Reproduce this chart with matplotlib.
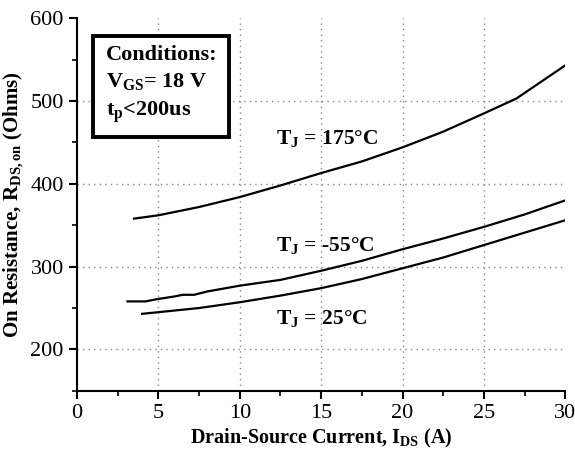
import matplotlib
matplotlib.use('Agg')
from matplotlib import pyplot as plt

plt.rcParams['font.family'] = ['Liberation Serif', 'DejaVu Serif']
plt.rcParams['mathtext.fontset'] = 'custom'
plt.rcParams['mathtext.rm'] = 'Liberation Serif:bold'
plt.rcParams['mathtext.bf'] = 'Liberation Serif:bold'
plt.rcParams['mathtext.it'] = 'Liberation Serif:bold'

# curves (I_DS in A, R_DS,on in Ohms)
i_175 = [3.5, 5, 7.5, 10, 12.5, 15, 17.5, 20, 22.5, 25, 27, 30]
r_175 = [358, 362, 372, 384, 398, 413, 427, 444, 463, 485, 503, 543]

i_m55 = [3.1, 4.2, 5, 6, 6.5, 7.2, 8, 10, 12.5, 15, 17.5, 20, 22.5, 25, 27.5, 30]
r_m55 = [258, 258, 261, 264, 266, 266, 270, 277, 284, 295, 307, 321, 334, 348, 363, 380]

i_25 = [4, 5, 7.5, 10, 12.5, 15, 17.5, 20, 22.5, 25, 27.5, 30]
r_25 = [243, 245, 250, 257, 265, 274, 285, 298, 311, 326, 341, 356]

x_ticks = [0, 5, 10, 15, 20, 25, 30]
y_ticks = [200, 300, 400, 500, 600]

fig = plt.figure(figsize=(5.75, 4.55), dpi=100)
ax = fig.add_axes([0.134, 0.141, 0.849, 0.819])

ax.plot(i_175, r_175, color='black', lw=1.6)
ax.plot(i_m55, r_m55, color='black', lw=1.6)
ax.plot(i_25, r_25, color='black', lw=1.6)

ax.set_xlim(0, 30)
ax.set_ylim(150, 600)
ax.set_xticks(x_ticks)
ax.set_yticks(y_ticks)
ax.set_xticks([2.5, 7.5, 12.5, 17.5, 22.5, 27.5], minor=True)
ax.set_yticks([150, 250, 350, 450, 550], minor=True)
ax.tick_params(labelsize=16, width=1.5, length=6)
ax.tick_params(which='minor', width=1.2, length=3.5)

# dotted grid at the inner major ticks only
for gx in x_ticks[1:-1]:
    ax.axvline(gx, color='#888888', lw=1, ls=(0, (1, 3)), zorder=0)
for gy in y_ticks[:-1]:
    ax.axhline(gy, color='#888888', lw=1, ls=(0, (1, 3)), zorder=0)

ax.spines['top'].set_visible(False)
ax.spines['right'].set_visible(False)
ax.spines['left'].set_linewidth(1.5)
ax.spines['bottom'].set_linewidth(1.5)

ax.set_xlabel(r'Drain-Source Current, I$_\mathrm{DS}$ (A)', fontsize=14.5, fontweight='bold', labelpad=3)
ax.set_ylabel(r'On Resistance, R$_\mathrm{DS,on}$ (Ohms)', fontsize=15, fontweight='bold', labelpad=3)

ax.text(12.2, 455, r'T$_\mathrm{J}$ = 175°C', fontsize=15.5, fontweight='bold', va='center')
ax.text(12.2, 326, r'T$_\mathrm{J}$ = -55°C', fontsize=15.5, fontweight='bold', va='center')
ax.text(12.2, 237, r'T$_\mathrm{J}$ = 25°C', fontsize=15.5, fontweight='bold', va='center')

ax.text(1.75, 568, 'Conditions:\n' + r'V$_\mathrm{GS}$= 18 V' + '\n' + r't$_\mathrm{p}$<200us',
        fontsize=16, fontweight='bold', va='top', ha='left', linespacing=1.42,
        bbox=dict(boxstyle='square,pad=0.55', fc='white', ec='black', lw=2.8))

fig.savefig('out.png', dpi=100)
